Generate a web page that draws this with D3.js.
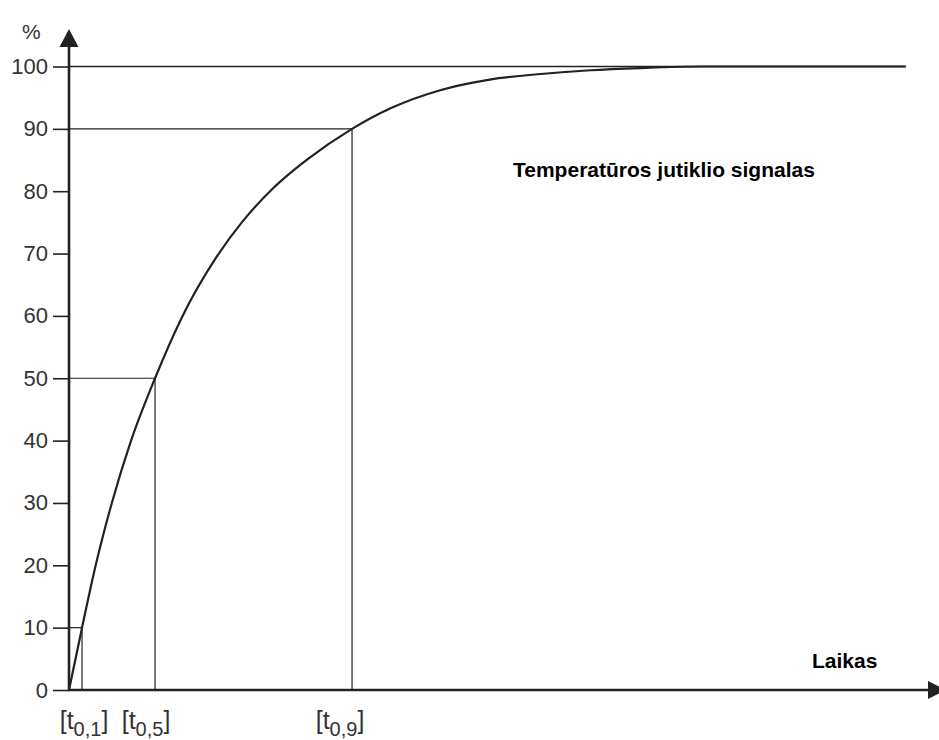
<!DOCTYPE html>
<html>
<head>
<meta charset="utf-8">
<script src="https://cdn.jsdelivr.net/npm/d3@7"></script>
<style>
  body { margin: 0; background: #fff; }
  svg { display: block; }
</style>
</head>
<body>
<svg id="Vis" width="939" height="740"></svg>
<script>
// signal curve (time in arbitrary units, value in %)
var times  = [0, 1.05, 2.15, 3.45, 5.0, 6.93, 9.1, 11.9, 14.0, 16.4, 19.2, 22.8, 25.9, 29.9, 33.9, 38.0, 42.0, 46.0, 51.0, 67.4];
var values = [0, 10, 20, 30, 40, 50, 59.8, 69.5, 75.2, 80.4, 85.1, 90, 93.3, 96.2, 97.9, 98.8, 99.4, 99.75, 100, 100];

// marked levels and their times
var levels     = [10, 50, 90];
var levelTimes = [1.05, 6.93, 22.8];
var levelSubs  = ["0,1", "0,5", "0,9"];

var yTicks = [0, 10, 20, 30, 40, 50, 60, 70, 80, 90, 100];
var curveEnd = 67.4;

var titleText = "Temperatūros jutiklio signalas";
var xName = "Laikas";
var yName = "%";

var svg = d3.select("#Vis");
var ink = "#222";
var font = "Liberation Sans, Arial, sans-serif";

var x = d3.scaleLinear().domain([0, 70]).range([69, 938]);
var y = d3.scaleLinear().domain([0, 100]).range([690, 66.5]);

// y ticks and labels
var yAxis = svg.append("g")
   .attr("transform", "translate(" + x(0) + ",0)")
   .call(d3.axisLeft(y).tickValues(yTicks).tickSize(16).tickPadding(5));
yAxis.select(".domain").remove();
yAxis.selectAll(".tick line").attr("stroke", ink).attr("stroke-width", 1.6);
yAxis.selectAll(".tick text")
   .attr("fill", "#333")
   .style("font-family", font)
   .style("font-size", "22px");

// reference line at 100%
svg.append("line")
   .attr("x1", x(0)).attr("x2", x(curveEnd))
   .attr("y1", y(100)).attr("y2", y(100))
   .attr("stroke", ink).attr("stroke-width", 1.3);

// horizontal and vertical guides for t0.1, t0.5, t0.9
var guides = svg.append("g");
for (var i = 0; i < levels.length; i++) {
  guides.append("line")
     .attr("x1", x(0)).attr("x2", x(levelTimes[i]))
     .attr("y1", y(levels[i])).attr("y2", y(levels[i]))
     .attr("stroke", ink).attr("stroke-width", 1.2);
  guides.append("line")
     .attr("x1", x(levelTimes[i])).attr("x2", x(levelTimes[i]))
     .attr("y1", y(0)).attr("y2", y(levels[i]))
     .attr("stroke", ink).attr("stroke-width", 1.2);
}

// signal curve
var pts = times.map(function(t, i){ return [t, values[i]]; });
svg.append("path")
   .datum(pts)
   .attr("fill", "none")
   .attr("stroke", ink)
   .attr("stroke-width", 2.2)
   .attr("d", d3.line()
      .x(function(d){ return x(d[0]); })
      .y(function(d){ return y(d[1]); })
      .curve(d3.curveMonotoneX));

// axes with arrows
svg.append("line")
   .attr("x1", x(0)).attr("x2", x(0))
   .attr("y1", y(0) + 1).attr("y2", 44)
   .attr("stroke", ink).attr("stroke-width", 2.6);
svg.append("path")
   .attr("d", "M" + x(0) + ",29 L" + (x(0) - 9.5) + ",47 L" + (x(0) + 9.5) + ",47 Z")
   .attr("fill", ink);

svg.append("line")
   .attr("x1", x(0) - 1).attr("x2", 930)
   .attr("y1", y(0)).attr("y2", y(0))
   .attr("stroke", ink).attr("stroke-width", 2.6);
svg.append("path")
   .attr("d", "M946," + y(0) + " L928," + (y(0) - 9) + " L928," + (y(0) + 9) + " Z")
   .attr("fill", ink);

// x labels [t0,1] ... (the first one sits a bit right of its line, the others left)
var nudge = [8, -3, -6];
var lab = svg.append("g")
   .style("font-family", font)
   .attr("fill", "#333");
for (var k = 0; k < levelTimes.length; k++) {
  var t = lab.append("text")
     .attr("x", x(levelTimes[k]) + nudge[k] - 6)
     .attr("y", 729)
     .attr("text-anchor", "middle")
     .style("font-size", "25px");
  t.append("tspan").text("[t");
  t.append("tspan").attr("dy", 7).style("font-size", "20px").text(levelSubs[k]);
  t.append("tspan").attr("dy", -7).text("]");
}

// texts
svg.append("text")
   .attr("x", 22).attr("y", 39)
   .attr("fill", "#333")
   .style("font-family", font)
   .style("font-size", "21px")
   .text(yName);

svg.append("text")
   .attr("x", 812).attr("y", 668)
   .attr("fill", "#000")
   .style("font-family", font)
   .style("font-weight", "bold")
   .style("font-size", "21px")
   .text(xName);

svg.append("text")
   .attr("x", 513).attr("y", 177)
   .attr("fill", "#000")
   .style("font-family", font)
   .style("font-weight", "bold")
   .style("font-size", "21px")
   .text(titleText);
</script>
</body>
</html>
